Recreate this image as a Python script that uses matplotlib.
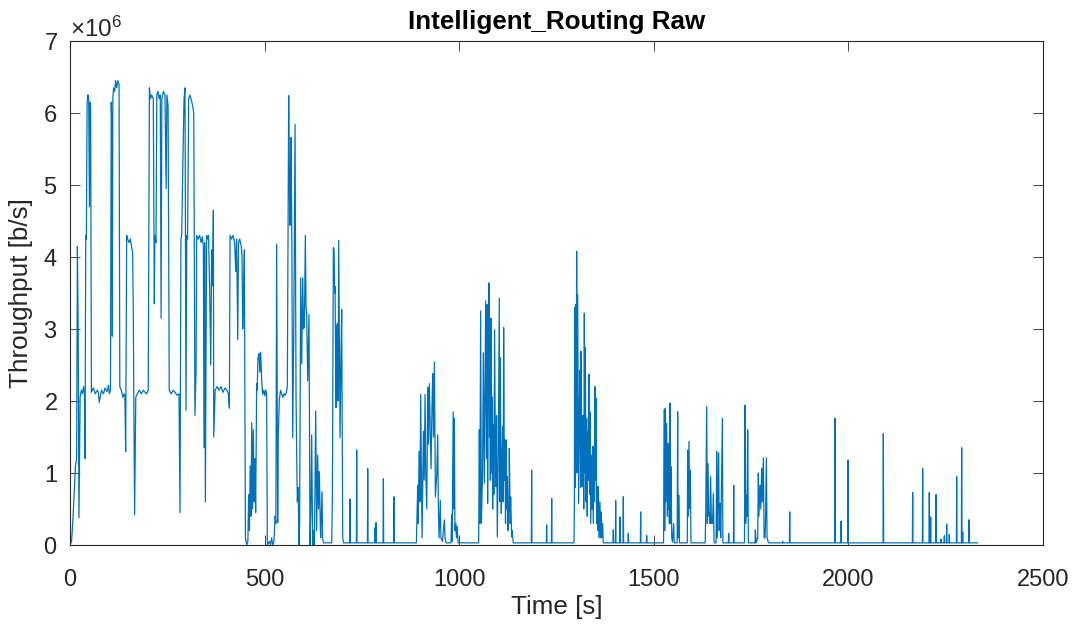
import numpy as np
import matplotlib
matplotlib.use('Agg')
import matplotlib.pyplot as plt
from matplotlib.ticker import ScalarFormatter

plt.rcParams['font.family'] = ['Liberation Sans', 'DejaVu Sans']
plt.rcParams['mathtext.fontset'] = 'custom'
plt.rcParams['mathtext.rm'] = 'Liberation Sans'

# throughput, in Mb/s (scaled to b/s below)
base = 0.03

# heavy traffic, 0 .. 710 s
early_t = [0, 4, 8, 14, 17, 19, 21, 23, 26, 29, 32, 35, 37, 38.5, 40.5, 42, 44, 46, 48, 50, 51.5, 53, 55,
           60, 65, 70, 73, 75, 81, 86, 90, 95, 99, 101, 104, 106, 107.5, 108.8, 110, 112, 115, 117, 120, 123,
           126, 128, 132, 136, 139, 141, 143, 145.6, 148, 152, 155, 158, 161, 162.7, 164, 166, 169, 173,
           178, 183, 188, 193, 197, 201, 204, 207, 210, 214, 216.7, 218, 221, 223, 226, 229, 232, 234,
           236, 240, 244, 247, 249, 252, 255, 260, 265, 270, 275, 280, 282.7, 285, 287, 290, 293, 295.5,
           298, 300, 302, 305, 308, 311, 315, 318, 321, 323.8, 325.5, 329, 333, 337, 340, 342.7, 344.4,
           346, 347.8, 351, 354, 356, 359, 361.6, 364, 366, 368.4, 369.3, 373, 378, 383, 388, 393, 398, 403,
           407, 409.5, 411.3, 415, 419, 423, 425.8, 428, 431, 433, 436, 440, 442, 443.8, 446, 448, 450.7,
           454, 457, 459, 461, 463, 465, 467, 469, 471, 473, 475, 477, 479.6, 481, 483, 485.6, 488, 490,
           492.4, 495, 498, 501, 503, 505.3, 507, 512, 515, 518, 521, 524, 527, 529, 531, 533.6, 535,
           537.9, 541, 544, 547, 550, 553, 556, 558.4, 561.9, 563.5, 565.3, 567, 568, 570, 572.2, 575,
           578.2, 579.5, 580.7, 583, 584.2, 586, 588.5, 590, 592.7, 595.3, 597.9, 600, 602.2, 604.7, 606.5,
           608.1, 610.7, 614.1, 616.7, 619, 621, 623.5, 626, 628, 631.3, 633.8, 636.4, 638.5, 640.7, 643,
           644.1, 647.6, 649, 651, 672.4, 674.1, 676.7, 678.5, 680, 681, 683.6, 685, 687, 689, 690.4, 692,
           693.9, 696, 698.1, 700.7, 703]
early_v = [0.0, 0.05, 0.4, 1.1, 1.2, 4.15, 3.0, 0.38, 2.05, 2.15, 2.1, 2.2, 2.1, 1.2, 4.3, 4.25, 6.15, 6.25,
           6.2, 4.7, 6.15, 6.1, 2.12, 2.18, 2.1, 2.15, 2.12, 1.98, 2.15, 2.1, 2.18, 2.13, 2.22, 2.1, 2.15,
           6.15, 5.8, 2.9, 6.2, 6.35, 6.3, 6.45, 6.35, 6.45, 6.4, 2.2, 2.15, 2.05, 2.1, 2.08, 1.3, 4.3, 4.25,
           4.2, 4.25, 4.15, 4.05, 3.2, 2.0, 0.42, 2.05, 2.1, 2.15, 2.1, 2.15, 2.12, 2.1, 2.15, 6.35, 6.2, 6.25,
           6.2, 3.35, 4.3, 4.2, 6.25, 6.3, 6.2, 6.25, 3.15, 6.2, 6.3, 6.25, 4.95, 6.25, 6.1, 2.15, 2.1, 2.15,
           2.12, 2.08, 2.1, 0.45, 4.25, 4.3, 5.3, 6.2, 6.35, 1.87, 4.3, 4.25, 6.2, 6.25, 6.2, 6.1, 6.0, 1.8,
           2.4, 4.3, 4.25, 4.3, 4.2, 4.28, 4.15, 1.35, 4.2, 0.6, 4.3, 4.25, 4.3, 3.5, 2.5, 4.1, 3.6, 4.65,
           1.5, 2.15, 2.2, 2.15, 2.2, 2.12, 2.18, 2.15, 2.1, 1.9, 4.3, 4.25, 4.3, 4.2, 3.8, 4.25, 2.85, 4.2,
           4.25, 4.15, 4.0, 3.0, 3.5, 4.1, 0.1, 0.0, 0.05, 0.7, 0.2, 1.1, 0.4, 1.7, 0.5, 1.6, 0.6, 1.2, 0.45,
           2.24, 2.15, 2.6, 2.66, 2.4, 2.68, 2.3, 2.09, 2.15, 2.07, 2.15, 2.1, 0.0, 0.05, 0.0, 0.1, 0.0, 0.05,
           0.4, 0.3, 4.18, 0.31, 1.5, 2.02, 2.15, 2.1, 2.05, 2.1, 2.08, 2.12, 2.2, 6.24, 5.0, 4.44, 5.6, 5.66,
           4.2, 1.49, 3.0, 5.84, 4.0, 2.1, 1.0, 0.6, 0.8, 0.0, 0.3, 3.71, 2.52, 3.71, 3.0, 3.03, 4.3, 3.3, 3.22,
           2.28, 3.2, 0.0, 0.5, 1.53, 0.0, 0.2, 0.0, 1.86, 0.2, 1.25, 0.5, 1.02, 0.3, 0.1, 0.74, 0.1, base,
           base, 0.64, 4.13, 4.1, 3.5, 3.59, 1.91, 3.0, 3.08, 2.0, 4.23, 3.0, 1.49, 2.5, 3.27, 0.1, base]

# bursts between 890 and 1370 s
mid_t = [890, 893.4, 895, 896.9, 899, 901.1, 903, 904.6, 908, 910, 912.3, 914, 916.6, 919.1, 921, 923.4,
         925.5, 927.7, 930, 932, 934, 936.3, 938, 938.8, 942.3, 944.8, 946.5, 948.3, 951.5, 953, 957,
         961.8, 963.7, 966, 979, 980.6, 982, 984.5, 986, 987.5, 989, 991, 993, 995, 997,
         1050, 1051.7, 1053, 1055.1, 1057, 1060, 1062, 1064.5, 1066, 1068, 1070, 1071.4, 1073, 1075,
         1076.5, 1078, 1079.1, 1080, 1081.6, 1083, 1084.2, 1086, 1087.6, 1089, 1091, 1093, 1094.5, 1096,
         1097.9, 1100.5, 1103, 1104, 1105.6, 1107, 1108.2, 1110, 1111.6, 1113, 1114.2, 1116, 1117.6, 1119,
         1120.2, 1122, 1123.6, 1125, 1126.2, 1127.5, 1128.8, 1131, 1132.2, 1134.8, 1136, 1139,
         1295, 1296, 1296.7, 1298, 1299.2, 1300.5, 1301.8, 1303, 1304.4, 1306, 1306.9, 1309, 1310.4, 1312,
         1312.9, 1315, 1316.4, 1318, 1318.9, 1320, 1321.5, 1323, 1324.1, 1326, 1327.5, 1329, 1330, 1332,
         1333.5, 1335, 1336, 1338, 1340.3, 1341.5, 1342.9, 1344.5, 1346.3, 1347.5, 1348.9, 1350, 1351.5,
         1353, 1354.9, 1356, 1357.5, 1359, 1361.7, 1363, 1364.3, 1366, 1368.6, 1370]
mid_v = [base, 0.83, 0.3, 1.3, 0.6, 2.09, 0.9, 0.1, 1.58, 0.9, 2.09, 1.0, 0.5, 2.19, 1.4, 2.24, 1.6, 1.06,
         1.9, 2.38, 1.5, 2.54, 1.3, 0.67, 0.97, 1.53, 0.5, 0.1, 0.62, 0.1, 0.05, 0.35, 0.1, base, base,
         0.42, 0.05, 1.85, 0.5, 1.76, 0.2, 0.3, 0.1, 0.26, base,
         base, 1.6, 0.3, 3.25, 0.3, 1.0, 2.67, 0.86, 2.0, 3.39, 1.2, 3.34, 0.58, 2.5, 3.64, 1.5, 3.15, 0.9,
         3.15, 1.0, 2.06, 0.5, 1.67, 0.7, 2.99, 1.2, 0.81, 1.8, 0.11, 1.28, 3.43, 0.6, 2.6, 1.0, 0.44, 1.3,
         1.65, 0.6, 3.02, 0.9, 1.46, 0.3, 1.46, 0.5, 0.95, 0.2, 0.44, 0.5, 1.34, 0.3, 0.67, 0.11, 0.2, base,
         base, 0.6, 3.3, 0.8, 3.34, 1.5, 4.08, 1.0, 3.48, 1.5, 0.58, 2.0, 2.43, 0.8, 2.69, 1.2, 0.81, 1.8,
         1.6, 0.5, 3.22, 1.0, 2.74, 0.6, 1.76, 0.4, 1.58, 0.9, 2.37, 0.7, 1.85, 0.3, 1.25, 0.5, 1.37, 0.3,
         1.37, 0.6, 2.2, 0.9, 2.04, 0.3, 0.81, 0.2, 0.81, 0.1, 0.6, 0.1, 0.46, 0.1, 0.3, base]

# bursts between 1525 and 1795 s
late_t = [1525, 1527.1, 1528, 1529.6, 1531, 1533.1, 1535, 1536.5, 1538, 1539.1, 1540, 1541.6, 1543,
          1544.2, 1546, 1548, 1551.1, 1552.5, 1560, 1561.3, 1562.5, 1564.8, 1566,
          1586, 1587, 1588.5, 1590.4, 1592, 1593.9, 1595.5,
          1632, 1633.3, 1635.9, 1637.5, 1639.3, 1641, 1642.7, 1644, 1646.1, 1648, 1649.6, 1651, 1653, 1655,
          1660, 1661.6, 1663, 1666.7, 1668, 1670.2, 1672, 1676.2, 1677.5,
          1733, 1734.4, 1736, 1737.8, 1739.5, 1741.2, 1743,
          1760, 1760.9, 1763, 1767, 1768.6, 1770, 1772.9, 1775, 1777.2, 1779, 1781.5, 1783.5, 1785.8,
          1787, 1789.2, 1791, 1793.5, 1795]
late_v = [base, 1.88, 0.2, 1.9, 0.6, 1.69, 0.4, 1.41, 0.5, 1.41, 0.3, 1.97, 0.3, 1.09, 0.11, 0.04, 0.3,
          base, base, 1.85, 0.1, 0.69, base,
          base, 1.32, 0.4, 1.44, 0.5, 1.04, base,
          base, 0.39, 1.92, 0.3, 1.13, 0.4, 0.44, 0.3, 0.95, 0.3, 0.39, 0.3, 0.72, base,
          base, 1.3, 0.1, 1.28, 0.2, 0.58, 0.1, 1.76, base,
          base, 1.94, 0.3, 0.69, 0.4, 1.6, base,
          base, 0.21, base, 0.1, 1.0, 0.4, 0.83, 0.5, 1.07, 0.6, 1.21, 0.1, 0.1, 0.3, 1.21, 0.1, 0.05, base]

# single isolated spikes
spike_t = [719.5, 736.6, 764.9, 783.7, 786.3, 805.2, 832.6, 1186.1, 1224.7, 1237.6, 1396, 1402, 1413.1,
           1421.7, 1434.5, 1466.2, 1481.7, 1692.4, 1705.3, 1831.2, 1849.2, 1965.6, 1981, 1999, 2089.8,
           2165.1, 2190.8, 2207.9, 2211.4, 2225.1, 2237.9, 2246.5, 2252.5, 2259.3, 2278.2, 2291,
           2293.6, 2309.9]
spike_v = [0.64, 1.32, 1.06, 0.24, 0.31, 0.92, 0.67, 1.04, 0.28, 0.65, 0.21, 0.62, 0.39, 0.67, 0.16,
           0.46, 0.13, 0.16, 0.83, 0.05, 0.46, 1.76, 0.33, 1.18, 1.55, 0.73, 1.06, 0.73, 0.39, 0.70, 0.08,
           0.13, 0.29, 0.15, 0.95, 1.35, 0.18, 0.35]
t_end = 2332

# merge into one trace
pts = list(zip(early_t, early_v)) + list(zip(mid_t, mid_v)) + list(zip(late_t, late_v))
for st, sv in zip(spike_t, spike_v):
    pts += [(st - 0.7, base), (st, sv), (st + 0.7, base)]
pts.append((t_end, base))
pts.sort(key=lambda p: p[0])
t = np.array([p[0] for p in pts])
y = np.array([p[1] for p in pts]) * 1e6

dark = '#262626'
fig = plt.figure(figsize=(10.78, 6.27), dpi=100)
ax = fig.add_axes([70 / 1078, 82 / 627, 973 / 1078, 504 / 627])
ax.plot(t, y, color='#0072BD', lw=0.9)

ax.set_xlim(0, 2500)
ax.set_ylim(0, 7e6)
ax.set_xticks(np.arange(0, 2501, 500))
ax.set_yticks(np.arange(0, 7.01e6, 1e6))
fmt = ScalarFormatter(useMathText=True)
fmt.set_powerlimits((0, 0))
ax.yaxis.set_major_formatter(fmt)
ax.yaxis.get_offset_text().set_fontsize(17.5)
ax.yaxis.get_offset_text().set_color(dark)

ax.tick_params(direction='in', length=7.2, width=0.6, top=True, right=True,
               labelsize=17, colors=dark)
ax.tick_params(axis='x', pad=17)
ax.tick_params(axis='y', pad=9)
for s in ax.spines.values():
    s.set_color(dark)
    s.set_linewidth(0.8)

ax.set_xlabel('Time [s]', fontsize=18.7, color=dark, labelpad=3)
ax.set_ylabel('Throughput [b/s]', fontsize=18.7, color=dark, labelpad=7)
ax.set_title('Intelligent_Routing Raw', fontsize=18.7, fontweight='bold', color='black', pad=9)

fig.savefig('out.png', dpi=100)
